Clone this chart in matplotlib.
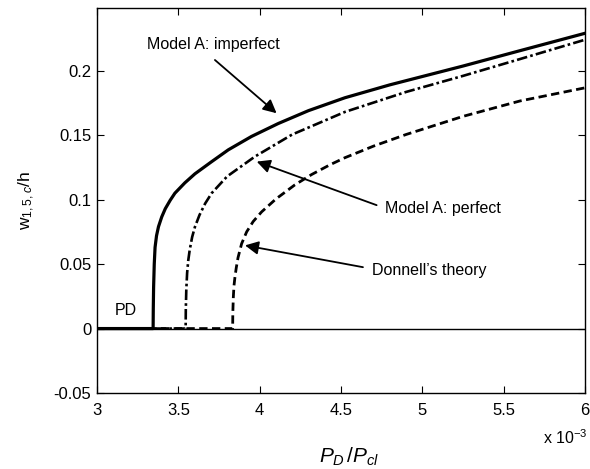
import numpy as np
import matplotlib
matplotlib.use("Agg")
import matplotlib.pyplot as plt

plt.rcParams['font.family'] = ['Liberation Sans', 'DejaVu Sans']
plt.rcParams['mathtext.fontset'] = 'custom'
plt.rcParams['mathtext.rm'] = 'Liberation Sans'
plt.rcParams['mathtext.it'] = 'Liberation Sans:italic'

# load ratio P_D/P_cl (x 10^-3) and amplitude w_{1,5,c}/h
x_imperfect = [3.0, 3.345, 3.346, 3.348, 3.352, 3.357, 3.366, 3.378, 3.398, 3.42, 3.45, 3.479,
               3.54, 3.602, 3.7, 3.807, 3.95, 4.114, 4.3, 4.524, 4.8, 5.25, 5.6, 6.0]
y_imperfect = [0.0, 0.0, 0.015, 0.032, 0.05, 0.063, 0.072, 0.079, 0.0866, 0.093, 0.0995, 0.105,
               0.113, 0.120, 0.129, 0.1386, 0.149, 0.159, 0.169, 0.179, 0.189, 0.2036, 0.2155, 0.229]

x_perfect = [3.0, 3.545, 3.546, 3.549, 3.554, 3.561, 3.57, 3.585, 3.602, 3.63, 3.665, 3.705,
             3.8, 3.971, 4.2, 4.524, 4.9, 5.251, 5.6, 6.0]
y_perfect = [0.0, 0.0, 0.015, 0.03, 0.043, 0.0528, 0.061, 0.071, 0.0788, 0.088, 0.097, 0.105,
             0.118, 0.1334, 0.1505, 0.168, 0.1835, 0.196, 0.209, 0.224]

x_donnell = [3.0, 3.834, 3.835, 3.838, 3.842, 3.848, 3.856, 3.867, 3.889, 3.92, 3.96, 4.012,
             4.1, 4.217, 4.32, 4.432, 4.524, 4.7, 4.9, 5.251, 5.6, 6.0]
y_donnell = [0.0, 0.0, 0.012, 0.024, 0.033, 0.0398, 0.047, 0.055, 0.0658, 0.075, 0.083, 0.0905,
             0.1005, 0.1115, 0.1195, 0.127, 0.1325, 0.1415, 0.1505, 0.1646, 0.1765, 0.1867]

fig = plt.figure(figsize=(5.9, 4.69), dpi=100)
ax = fig.add_axes([0.1644, 0.162, 0.8271, 0.822])

ax.axhline(0, color='k', lw=1.0)
ax.plot(x_donnell, y_donnell, color='k', lw=2.0, ls=(0, (3, 1.6)))
ax.plot(x_perfect, y_perfect, color='k', lw=1.9, ls=(0, (4, 1.2, 1, 1.2)))
ax.plot(x_imperfect, y_imperfect, color='k', lw=2.3, ls='-')

ax.set_xlim(3, 6)
ax.set_ylim(-0.05, 0.249)
ax.set_xticks([3, 3.5, 4, 4.5, 5, 5.5, 6])
ax.set_xticklabels(['3', '3.5', '4', '4.5', '5', '5.5', '6'])
ax.set_yticks([-0.05, 0, 0.05, 0.1, 0.15, 0.2])
ax.set_yticklabels(['-0.05', '0', '0.05', '0.1', '0.15', '0.2'])
ax.tick_params(direction='in', length=5, width=0.8, labelsize=12,
               top=True, right=True)
ax.tick_params(axis='x', pad=7)
ax.tick_params(axis='y', pad=4)
for s in ax.spines.values():
    s.set_linewidth(1.0)

arrow = dict(arrowstyle='-|>', color='k', lw=1.3, mutation_scale=20, shrinkA=0, shrinkB=0)
ax.annotate('', xy=(4.104, 0.167), xytext=(3.725, 0.2083), arrowprops=arrow)
ax.annotate('', xy=(3.982, 0.1295), xytext=(4.719, 0.0957), arrowprops=arrow)
ax.annotate('', xy=(3.910, 0.0645), xytext=(4.635, 0.0476), arrowprops=arrow)

ax.text(3.713, 0.2205, 'Model A: imperfect', fontsize=11.5, ha='center', va='center')
ax.text(4.77, 0.0934, 'Model A: perfect', fontsize=11.5, ha='left', va='center')
ax.text(4.69, 0.045, 'Donnell\u2019s theory', fontsize=11.5, ha='left', va='center')
ax.text(3.178, 0.0138, 'PD', fontsize=11.5, ha='center', va='center')

fig.text(27 / 590, 1 - 200 / 469, r'w$_{1,5,c}$/h', rotation=90, fontsize=12.5,
         ha='center', va='center')
fig.text(349 / 590, 1 - 457 / 469, r'$P_D\,/P_{cl}$', fontsize=15,
         ha='center', va='center')
fig.text(565 / 590, 1 - 438 / 469, r'x 10$^{-3}$', fontsize=11.5,
         ha='center', va='center')

fig.savefig('out.png', dpi=100)
